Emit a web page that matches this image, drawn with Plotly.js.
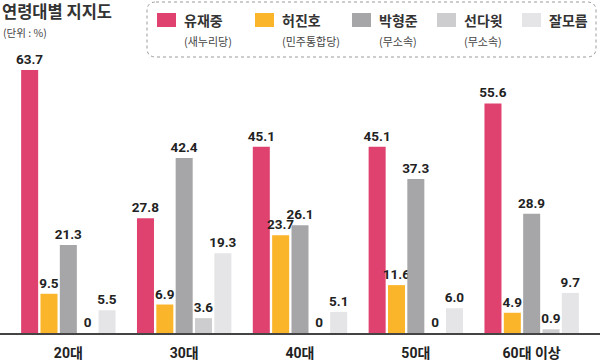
<!DOCTYPE html>
<html><head><meta charset="utf-8">
<script src="https://cdn.plot.ly/plotly-3.0.1.min.js"></script>
<style>html,body{margin:0;padding:0;background:#fff}#c{width:600px;height:361px}</style>
</head><body><div id="c"></div>
<script>
const categories = ['20대', '30대', '40대', '50대', '60대 이상'];
const seriesNames = ['유재중', '허진호', '박형준', '선다윗', '잘모름'];
const seriesParties = ['(새누리당)', '(민주통합당)', '(무소속)', '(무소속)', ''];
const yoo = [63.7, 27.8, 45.1, 45.1, 55.6];
const heo = [9.5, 6.9, 23.7, 11.6, 4.9];
const park = [21.3, 42.4, 26.1, 37.3, 28.9];
const seon = [0, 3.6, 0, 0, 0.9];
const unknown = [5.5, 19.3, 5.1, 6.0, 9.7];
const seriesValues = [yoo, heo, park, seon, unknown];
const colors = ['#E0426F', '#FBB52A', '#A6A6A8', '#CDCDCF', '#E5E5E7'];

const fontFam = 'Roboto, "Noto Sans CJK KR", sans-serif';
const krFont = '"Noto Sans CJK KR", sans-serif';

const traces = seriesValues.map((vals, i) => ({
  type: 'bar', x: categories, y: vals, name: seriesNames[i],
  marker: {color: colors[i]},
  text: vals.map(v => v === 0 ? '0' : v.toFixed(1)),
  textposition: 'outside', cliponaxis: false, constraintext: 'none',
  textfont: {family: fontFam, size: 13.5, color: '#222', weight: 700},
  hoverinfo: 'none'
}));

const plotH = 289, plotTop = 44;
const py = p => (plotTop + plotH - p) / plotH;
const px = p => p / 600;
const shapes = [];
const annotations = [];
annotations.push({xref:'paper', yref:'paper', x:px(1), y:py(11.5), xanchor:'left', yanchor:'middle', showarrow:false,
  borderpad:0, text:'<b>연령대별 지지도</b>', font:{family:krFont, size:16.5, color:'#333'}});
annotations.push({xref:'paper', yref:'paper', x:px(2), y:py(32), xanchor:'left', yanchor:'middle', showarrow:false,
  borderpad:0, text:'(단위 : %)', font:{family:krFont, size:10.5, color:'#444'}});
const bx0 = 147, bx1 = 596, by0 = 2, by1 = 57, rr = 9;
shapes.push({type:'path', xref:'paper', yref:'paper',
  path:`M ${px(bx0+rr)} ${py(by0)} L ${px(bx1-rr)} ${py(by0)} Q ${px(bx1)} ${py(by0)} ${px(bx1)} ${py(by0+rr)} L ${px(bx1)} ${py(by1-rr)} Q ${px(bx1)} ${py(by1)} ${px(bx1-rr)} ${py(by1)} L ${px(bx0+rr)} ${py(by1)} Q ${px(bx0)} ${py(by1)} ${px(bx0)} ${py(by1-rr)} L ${px(bx0)} ${py(by0+rr)} Q ${px(bx0)} ${py(by0)} ${px(bx0+rr)} ${py(by0)} Z`,
  line:{color:'#9a9a9a', width:1, dash:'dot'}, fillcolor:'rgba(0,0,0,0)'});
const swX = [157, 255, 352, 437, 522];
seriesNames.forEach((n, i) => {
  shapes.push({type:'rect', xref:'paper', yref:'paper', x0:px(swX[i]), x1:px(swX[i]+19), y0:py(27), y1:py(13),
    fillcolor:colors[i], line:{width:0}});
  annotations.push({xref:'paper', yref:'paper', x:px(swX[i]+25), y:py(20), xanchor:'left', yanchor:'middle', showarrow:false,
    text:'<b>'+n+'</b>', font:{family:krFont, size:14, color:'#333'}});
  if (seriesParties[i]) annotations.push({xref:'paper', yref:'paper', x:px(swX[i]+25), y:py(41), xanchor:'left', yanchor:'middle', showarrow:false,
    text:seriesParties[i], font:{family:krFont, size:11, color:'#444'}});
});

const layout = {
  width:600, height:361, margin:{l:0, r:0, t:44, b:28},
  paper_bgcolor:'#fff', plot_bgcolor:'#fff', showlegend:false,
  barmode:'group', bargap:0.165, bargroupgap:0.12,
  xaxis:{range:[-0.59, 4.59], showline:true, linecolor:'#444', linewidth:1.5, ticks:'', ticklabelstandoff:7,
    tickfont:{family:fontFam, size:14, color:'#222', weight:700}, fixedrange:true, showgrid:false},
  yaxis:{range:[0, 70], visible:false, showgrid:false, zeroline:false},
  shapes, annotations
};
Plotly.newPlot('c', traces, layout, {staticPlot:true});
</script></body></html>
